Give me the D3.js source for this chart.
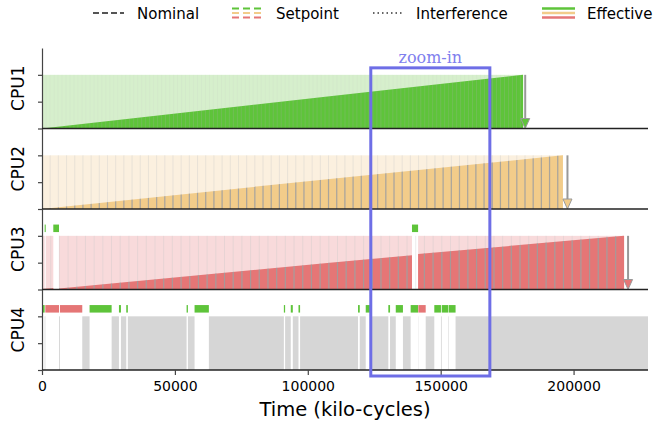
<!DOCTYPE html>
<html>
<head>
<meta charset="utf-8">
<script src="https://cdn.jsdelivr.net/npm/d3@7"></script>
<style>
	body { margin: 0; background: #fff; }
	text { font-family: "DejaVu Sans", sans-serif; }
</style>
</head>
<body>
<svg id="chart" width="657" height="424"></svg>
<script>
// --- data (time in kilo-cycles) ---
var cpuNames = ["CPU1", "CPU2", "CPU3", "CPU4"];
var xTicks = [0, 50000, 100000, 150000, 200000];
var yTicks = [0, 0.5, 1];
var legendLabels = ["Nominal", "Setpoint", "Interference", "Effective"];

// setpoint span (level 1) per cpu
var setpointEnd = [181000, 196000, 219000, 228000];
// nominal finish arrows
var finishTimes = [181800, 197700, 220500, null];
// width of one scheduling slot (stripes)
var slotLength = [1500, 3080, 3270, null];

// effective progress, null = gap
var cpu1Effective = [[0, 0], [108300, 0.6], [181000, 1]];
var cpu2Effective = [[0, 0], [108300, 0.56], [196000, 1]];
var cpu3Effective = [[0, 0.01], [4250, 0.03], null, [6400, 0.02], [108300, 0.5], [139200, 0.64], null, [141500, 0.66], [219000, 1]];
var cpu4Effective = [];

// interference: [start, end, source cpu]
var cpu1Interference = [];
var cpu2Interference = [];
var cpu3Interference = [[1000, 1400, 0], [4250, 6400, 0], [139200, 141500, 0]];
var cpu4Interference = [
	[300, 1000, 0], [1250, 6400, 2], [6750, 15150, 2], [17900, 26200, 0],
	[28950, 29700, 0], [31700, 32300, 0], [54400, 54900, 0], [57400, 62780, 0],
	[91000, 91470, 0], [93600, 94360, 0], [96500, 97100, 0], [118900, 119550, 0],
	[121800, 123600, 0], [130300, 130950, 0], [133100, 135800, 0], [138700, 141500, 0],
	[141600, 144360, 2], [147600, 150100, 0], [150400, 152900, 0], [153100, 155600, 0]
];
var zoomWindow = [123700, 168500];

var effectiveSeries = [cpu1Effective, cpu2Effective, cpu3Effective, cpu4Effective];
var interferenceSeries = [cpu1Interference, cpu2Interference, cpu3Interference, cpu4Interference];

var effColors = ["#5ec43a", "#f2cc8a", "#e57676", "#d6d6d6"];
var setColors = ["#d6efcc", "#fbf0df", "#f8dadb", "#d6d6d6"];

var svg = d3.select("#chart");
var top0 = 48, panelH = 80.5;

var x = d3.scaleLinear().domain([0, 228000]).range([42, 648]);
var y = d3.scaleLinear().domain([0, 1.5]).range([panelH, 0]);

function gapsOut(end, gaps) {
	var out = [], s = 0;
	gaps.slice().sort(function(a, b) { return a[0] - b[0]; }).forEach(function(g) {
		if (g[0] > s) out.push([s, g[0]]);
		s = Math.max(s, g[1]);
	});
	if (s < end) out.push([s, end]);
	return out;
}

var area = d3.area()
	.defined(function(d) { return d; })
	.x(function(d) { return x(d[0]); })
	.y0(y(0))
	.y1(function(d) { return y(d[1]); });

cpuNames.forEach(function(name, i) {
	var g = svg.append("g").attr("transform", "translate(0," + (top0 + i * panelH) + ")");

	// setpoint background
	g.selectAll("rect.sp")
		.data(gapsOut(setpointEnd[i], interferenceSeries[i]))
		.enter().append("rect")
		.attr("class", "sp")
		.attr("x", function(d) { return x(d[0]); })
		.attr("width", function(d) { return x(d[1]) - x(d[0]); })
		.attr("y", y(1))
		.attr("height", y(0) - y(1))
		.style("fill", setColors[i]);

	// effective progress
	if (effectiveSeries[i].length) {
		g.append("clipPath").attr("id", "eff" + i)
			.append("path").attr("d", area(effectiveSeries[i]));
		g.append("path")
			.attr("d", area(effectiveSeries[i]))
			.style("fill", effColors[i]);

		var slots = d3.range(slotLength[i], setpointEnd[i], slotLength[i]);
		g.append("g").selectAll("line")
			.data(slots)
			.enter().append("line")
			.attr("x1", function(d) { return x(d); })
			.attr("x2", function(d) { return x(d); })
			.attr("y1", y(1)).attr("y2", y(0))
			.style("stroke", "#c8c8c8")
			.style("stroke-opacity", i === 0 ? 0.12 : 0.35);
		g.append("g").attr("clip-path", "url(#eff" + i + ")")
			.selectAll("line")
			.data(slots)
			.enter().append("line")
			.attr("x1", function(d) { return x(d); })
			.attr("x2", function(d) { return x(d); })
			.attr("y1", y(1)).attr("y2", y(0))
			.style("stroke", "#9a9a9a")
			.style("stroke-width", 1.2)
			.style("stroke-opacity", i === 0 ? 0.12 : 0.8);
	}

	// interference markers
	g.selectAll("rect.itf")
		.data(interferenceSeries[i])
		.enter().append("rect")
		.attr("class", "itf")
		.attr("x", function(d) { return x(d[0]); })
		.attr("width", function(d) { return x(d[1]) - x(d[0]); })
		.attr("y", y(1.21))
		.attr("height", y(1.07) - y(1.21))
		.style("fill", function(d) { return effColors[d[2]]; });

	// nominal finish arrow
	if (finishTimes[i] != null) {
		var fx = x(finishTimes[i]);
		g.append("line")
			.attr("x1", fx).attr("x2", fx)
			.attr("y1", y(1)).attr("y2", y(0) - 9)
			.style("stroke", "#999").style("stroke-width", 2);
		g.append("path")
			.attr("d", "M" + (fx - 4.5) + "," + (y(0) - 10) + "L" + (fx + 4.5) + "," + (y(0) - 10) + "L" + fx + "," + y(0) + "Z")
			.style("fill", effColors[i])
			.style("stroke", "#999");
	}

	// axes
	g.append("g")
		.attr("transform", "translate(42,0)")
		.call(d3.axisLeft(y).tickValues(yTicks).tickFormat("").tickSize(4).tickSizeOuter(0))
		.call(function(a) { a.selectAll("path,line").style("stroke", "#444").style("stroke-width", 1.2); });

	g.append("line")
		.attr("x1", x(0)).attr("x2", x(228000))
		.attr("y1", y(0)).attr("y2", y(0))
		.style("stroke", "#222").style("stroke-width", 1.3);

	g.append("text")
		.attr("transform", "translate(24," + (panelH / 2) + ") rotate(-90)")
		.attr("text-anchor", "middle")
		.style("font-size", "17px")
		.text(name);

	if (i === cpuNames.length - 1) {
		g.append("g")
			.attr("transform", "translate(0," + y(0) + ")")
			.call(d3.axisBottom(x).tickValues(xTicks).tickFormat(d3.format("d")).tickSize(5).tickSizeOuter(0))
			.call(function(a) {
				a.select(".domain").remove();
				a.selectAll("line").style("stroke", "#444").style("stroke-width", 1.2);
				a.selectAll("text").style("font-size", "14px").style("font-family", "DejaVu Sans").attr("fill", "#000").attr("dy", "0.95em");
			});
	}
});

// x title
svg.append("text")
	.attr("x", 345).attr("y", 416)
	.attr("text-anchor", "middle")
	.style("font-size", "19.5px")
	.text("Time (kilo-cycles)");

// zoom-in window
var zTop = top0 + y(1.13);
svg.append("rect")
	.attr("x", x(zoomWindow[0]))
	.attr("y", zTop)
	.attr("width", x(zoomWindow[1]) - x(zoomWindow[0]))
	.attr("height", top0 + 4 * panelH + 6 - zTop)
	.style("fill", "none")
	.style("stroke", "#6e6ee6")
	.style("stroke-width", 3);
svg.append("text")
	.attr("x", (x(zoomWindow[0]) + x(zoomWindow[1])) / 2)
	.attr("y", zTop - 5)
	.attr("text-anchor", "middle")
	.style("font-family", "'DejaVu Serif', serif")
	.style("font-size", "16px")
	.style("fill", "#8080ee")
	.text("zoom-in");

// legend
var lg = svg.append("g");
var legendTextX = [137, 276, 416, 587];
// Nominal
lg.append("line").attr("x1", 93).attr("x2", 124).attr("y1", 13).attr("y2", 13)
	.style("stroke", "#555").style("stroke-width", 2).style("stroke-dasharray", "6,3");
// Setpoint
[0, 1, 2].forEach(function(k) {
	lg.append("line").attr("x1", 232).attr("x2", 263).attr("y1", 8.5 + k * 4.5).attr("y2", 8.5 + k * 4.5)
		.style("stroke", effColors[k]).style("stroke-width", 2).style("stroke-dasharray", "7,4");
});
// Interference
lg.append("line").attr("x1", 373).attr("x2", 404).attr("y1", 13).attr("y2", 13)
	.style("stroke", "#666").style("stroke-width", 2).style("stroke-dasharray", "1.5,3");
// Effective
[0, 1, 2].forEach(function(k) {
	lg.append("line").attr("x1", 542).attr("x2", 575).attr("y1", 8.5 + k * 4.5).attr("y2", 8.5 + k * 4.5)
		.style("stroke", effColors[k]).style("stroke-width", 2.5);
});
lg.selectAll("text")
	.data(legendLabels)
	.enter().append("text")
	.attr("x", function(d, k) { return legendTextX[k]; })
	.attr("y", 18.5)
	.style("font-size", "15px")
	.text(function(d) { return d; });
</script>
</body>
</html>
